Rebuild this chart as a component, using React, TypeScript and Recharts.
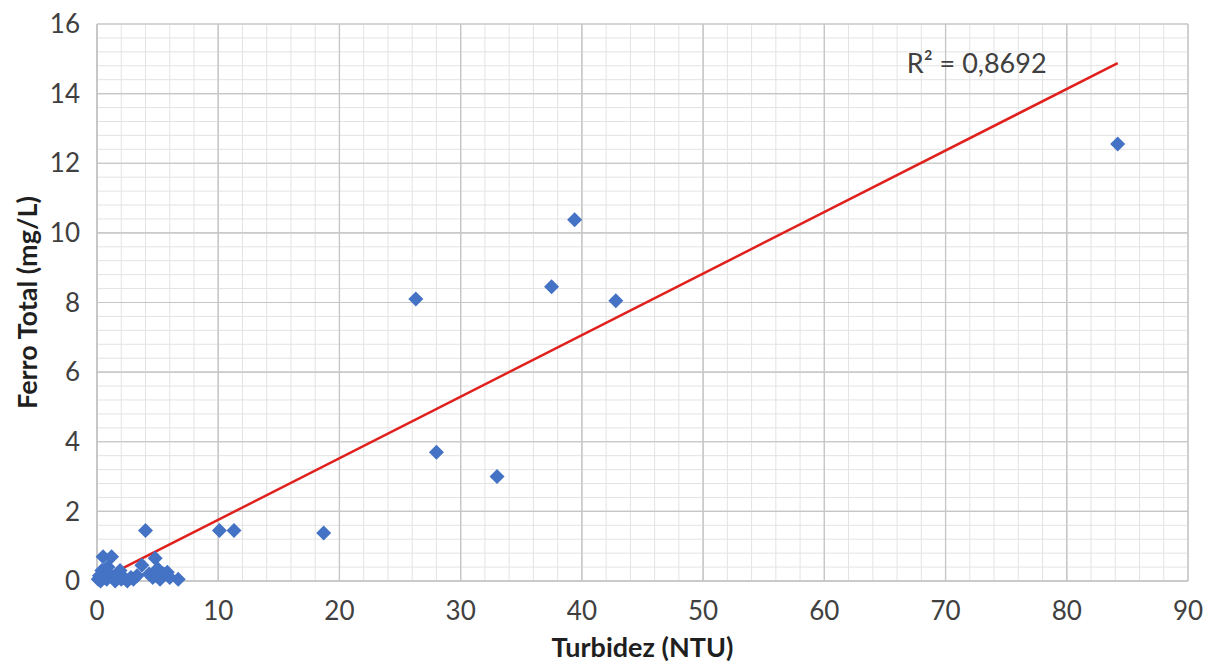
import React from 'react'
import {
  ScatterChart,
  Scatter,
  XAxis,
  YAxis,
  CartesianGrid,
  ReferenceLine,
  ReferenceDot
} from 'recharts'

// Turbidez (NTU) x Ferro Total (mg/L)
const turbidez = [
  0.1, 0.2, 0.3, 0.4, 0.5, 0.6, 0.8, 0.9, 1.0, 1.2, 1.3, 1.5, 1.7, 1.9, 2.0, 2.2,
  2.5, 2.8, 3.0, 3.3, 3.7, 4.0, 4.3, 4.6, 4.8, 4.9, 5.0, 5.2, 5.5, 5.8, 6.0, 6.7,
  10.1, 11.3, 18.7, 26.3, 28.0, 33.0, 37.5, 39.4, 42.8, 84.2
]
const ferroTotal = [
  0.05, 0.15, 0.0, 0.3, 0.7, 0.1, 0.05, 0.4, 0.2, 0.7, 0.1, 0.0, 0.15, 0.3, 0.05, 0.1,
  0.0, 0.1, 0.05, 0.15, 0.45, 1.45, 0.2, 0.1, 0.65, 0.15, 0.35, 0.05, 0.2, 0.25, 0.1, 0.05,
  1.45, 1.45, 1.38, 8.1, 3.7, 3.0, 8.45, 10.38, 8.05, 12.55
]

// linear trend as drawn (y = a*x + b), R² shown on the chart
const trendSlope = 0.1768
const trendIntercept = -0.01
const rSquared = '0,8692'

const xTicks = [0, 10, 20, 30, 40, 50, 60, 70, 80, 90]
const yTicks = [0, 2, 4, 6, 8, 10, 12, 14, 16]
const xMinor = [2, 4, 6, 8, 12, 14, 16, 18, 22, 24, 26, 28, 32, 34, 36, 38, 42, 44, 46, 48,
  52, 54, 56, 58, 62, 64, 66, 68, 72, 74, 76, 78, 82, 84, 86, 88]
const yMinor = [0.4, 0.8, 1.2, 1.6, 2.4, 2.8, 3.2, 3.6, 4.4, 4.8, 5.2, 5.6, 6.4, 6.8, 7.2, 7.6,
  8.4, 8.8, 9.2, 9.6, 10.4, 10.8, 11.2, 11.6, 12.4, 12.8, 13.2, 13.6, 14.4, 14.8, 15.2, 15.6]

const points = turbidez.map((x, i) => ({ x, y: ferroTotal[i] }))

const xMin = Math.min(...turbidez)
const xMax = Math.max(...turbidez)
const trendSegment = [
  { x: xMin, y: trendSlope * xMin + trendIntercept },
  { x: xMax, y: trendSlope * xMax + trendIntercept }
]

const font = 'Lato, "Open Sans", sans-serif'
const textColor = '#404040'

const Diamond = (props: any) => {
  const { cx, cy } = props
  const r = 7.5
  return (
    <polygon
      points={`${cx},${cy - r} ${cx + r},${cy} ${cx},${cy + r} ${cx - r},${cy}`}
      fill="#4472C4"
    />
  )
}

const R2Label = (props: any) => {
  const { viewBox } = props
  return (
    <text
      x={viewBox.x}
      y={viewBox.y}
      dominantBaseline="central"
      fontFamily={font}
      fontSize={27}
      fill={textColor}
    >
      R² = {rSquared}
    </text>
  )
}

export default function App() {
  return (
    <div style={{ position: 'absolute', left: 0, top: 0, background: '#fff' }}>
      <ScatterChart
        width={1215}
        height={662}
        margin={{ top: 24, right: 27, left: 37, bottom: 0 }}
      >
        <CartesianGrid stroke="#c9c9c9" strokeWidth={1.2} />
        {xMinor.map(v => (
          <ReferenceLine key={'vx' + v} x={v} stroke="#e3e3e3" strokeWidth={1} />
        ))}
        {yMinor.map(v => (
          <ReferenceLine key={'hy' + v} y={v} stroke="#e3e3e3" strokeWidth={1} />
        ))}
        {xTicks.map(v => (
          <ReferenceLine key={'mx' + v} x={v} stroke="#c6c6c6" strokeWidth={1.2} />
        ))}
        {yTicks.map(v => (
          <ReferenceLine key={'my' + v} y={v} stroke="#c6c6c6" strokeWidth={1.2} />
        ))}
        <XAxis
          type="number"
          dataKey="x"
          domain={[0, 90]}
          ticks={xTicks}
          height={81}
          axisLine={{ stroke: '#bfbfbf' }}
          tickLine={false}
          tickSize={0}
          tickMargin={21}
          tick={{ fill: textColor, fontSize: 26, fontFamily: font }}
          label={{
            value: 'Turbidez (NTU)',
            position: 'insideBottom',
            offset: 5,
            fill: '#1f1f1f',
            fontSize: 27,
            fontWeight: 700,
            fontFamily: font
          }}
        />
        <YAxis
          type="number"
          dataKey="y"
          domain={[0, 16]}
          ticks={yTicks}
          width={60}
          axisLine={{ stroke: '#bfbfbf' }}
          tickLine={false}
          tickSize={0}
          tickMargin={17}
          tick={{ fill: textColor, fontSize: 26, fontFamily: font }}
          label={{
            value: 'Ferro Total (mg/L)',
            angle: -90,
            position: 'insideLeft',
            offset: -10,
            style: { textAnchor: 'middle' },
            fill: '#1f1f1f',
            fontSize: 27,
            fontWeight: 700,
            fontFamily: font
          }}
        />
        <ReferenceLine
          segment={trendSegment}
          stroke="#e0201c"
          strokeWidth={2.5}
        />
        <Scatter data={points} shape={<Diamond />} isAnimationActive={false} />
        <ReferenceDot x={66.8} y={14.88} r={0} stroke="none" label={<R2Label />} />
      </ScatterChart>
    </div>
  )
}
